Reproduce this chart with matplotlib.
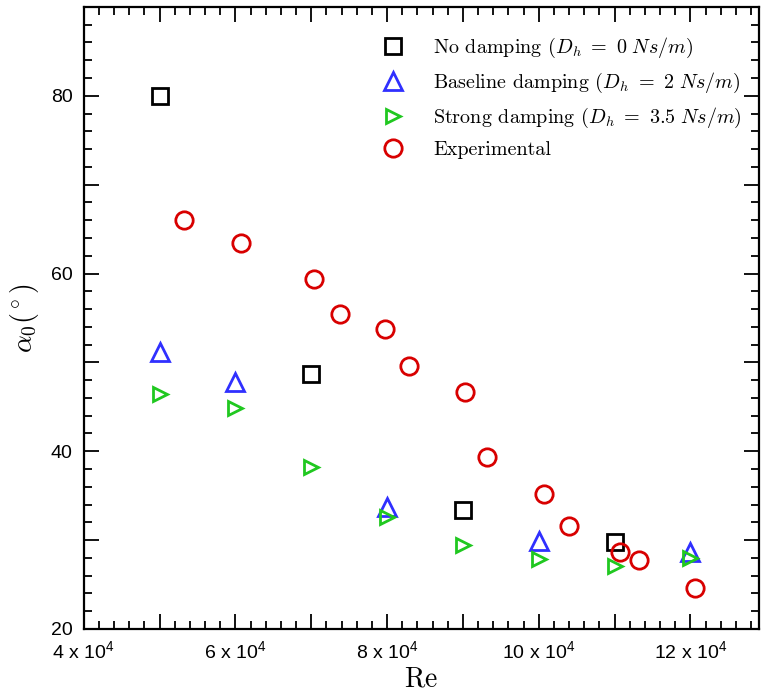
import matplotlib
matplotlib.use("Agg")
import matplotlib.pyplot as plt
from matplotlib import font_manager as fm
from matplotlib.font_manager import FontProperties
from matplotlib.ticker import MultipleLocator, FixedLocator, FixedFormatter

# ---------------- data ----------------
re_none = [5e4, 7e4, 9e4, 11e4]
a_none = [80.0, 48.7, 33.4, 29.8]

re_base = [5e4, 6e4, 8e4, 10e4, 12e4]
a_base = [51.2, 47.8, 33.7, 29.9, 28.7]

re_strong = [5e4, 6e4, 7e4, 8e4, 9e4, 10e4, 11e4, 12e4]
a_strong = [46.4, 44.9, 38.2, 32.6, 29.4, 27.9, 27.1, 28.0]

re_exp = [5.32e4, 6.08e4, 7.03e4, 7.38e4, 7.97e4, 8.29e4, 9.03e4, 9.32e4,
          10.07e4, 10.4e4, 11.07e4, 11.32e4, 12.06e4]
a_exp = [66.0, 63.4, 59.4, 55.5, 53.8, 49.6, 46.7, 39.3,
         35.2, 31.6, 28.7, 27.8, 24.6]

xtick_vals = [4e4, 5e4, 6e4, 7e4, 8e4, 9e4, 10e4, 11e4, 12e4]
xtick_labels = ['4 x $10^{4}$', '', '6 x $10^{4}$', '', '8 x $10^{4}$', '',
                '10 x $10^{4}$', '', '12 x $10^{4}$']
ytick_vals = [20, 30, 40, 50, 60, 70, 80, 90]
ytick_labels = ['20', '', '40', '', '60', '', '80', '']

labels = [r'No damping ($D_h\ =\ 0\ Ns/m$)',
          r'Baseline damping ($D_h\ =\ 2\ Ns/m$)',
          r'Strong damping ($D_h\ =\ 3.5\ Ns/m$)',
          'Experimental']

# ---------------- fonts ----------------
avail = {f.name for f in fm.fontManager.ttflist}
tick_font = 'Liberation Sans Narrow' if 'Liberation Sans Narrow' in avail else 'Liberation Sans'
plt.rcParams['font.family'] = [tick_font, 'DejaVu Sans']
plt.rcParams['mathtext.fontset'] = 'custom'
plt.rcParams['mathtext.rm'] = tick_font
plt.rcParams['mathtext.it'] = tick_font
plt.rcParams['mathtext.bf'] = tick_font

cm_prop = FontProperties(family='cmr10', size=14.5, math_fontfamily='cm')
xlab_prop = FontProperties(family='cmr10', size=20, math_fontfamily='cm')
ylab_prop = FontProperties(family='cmr10', size=20, math_fontfamily='cm')

fig = plt.figure(figsize=(7.61, 6.95), dpi=100)
ax = fig.add_axes([0.110, 0.095, 0.887, 0.895])

lw = 2.0
ax.plot(re_none, a_none, ls='none', marker='s', ms=11, mfc='none', mec='black', mew=lw, label=labels[0])
ax.plot(re_base, a_base, ls='none', marker='^', ms=12.5, mfc='none', mec='#3030ff', mew=lw, label=labels[1])
ax.plot(re_strong, a_strong, ls='none', marker='>', ms=10, mfc='none', mec='#20c820', mew=lw, label=labels[2])
ax.plot(re_exp, a_exp, ls='none', marker='o', ms=12.5, mfc='none', mec='#d80000', mew=lw, label=labels[3])

ax.set_xlim(4e4, 1.29e5)
ax.set_ylim(20, 90)

ax.xaxis.set_major_locator(FixedLocator(xtick_vals))
ax.xaxis.set_major_formatter(FixedFormatter(xtick_labels))
ax.xaxis.set_minor_locator(MultipleLocator(2000))
ax.yaxis.set_major_locator(FixedLocator(ytick_vals))
ax.yaxis.set_major_formatter(FixedFormatter(ytick_labels))
ax.yaxis.set_minor_locator(MultipleLocator(2))

ax.tick_params(axis='both', which='both', direction='in', top=True, right=True, color='black', width=1.3)
ax.tick_params(axis='both', which='major', length=11, labelsize=14)
ax.tick_params(axis='x', which='major', pad=8)
ax.tick_params(axis='y', which='major', pad=8)
ax.tick_params(axis='both', which='minor', length=5.5)

for s in ax.spines.values():
    s.set_linewidth(1.6)

ax.set_xlabel(r'$\mathrm{Re}$', fontproperties=xlab_prop, labelpad=3)
ax.set_ylabel(r'$\alpha_0(^\circ)$', fontproperties=ylab_prop, labelpad=7)

leg = ax.legend(loc='upper right', bbox_to_anchor=(0.987, 0.967), prop=cm_prop,
                frameon=False, handletextpad=1.5, labelspacing=0.55,
                borderaxespad=0.0, handlelength=1.0)

fig.savefig('out.png', dpi=100)
